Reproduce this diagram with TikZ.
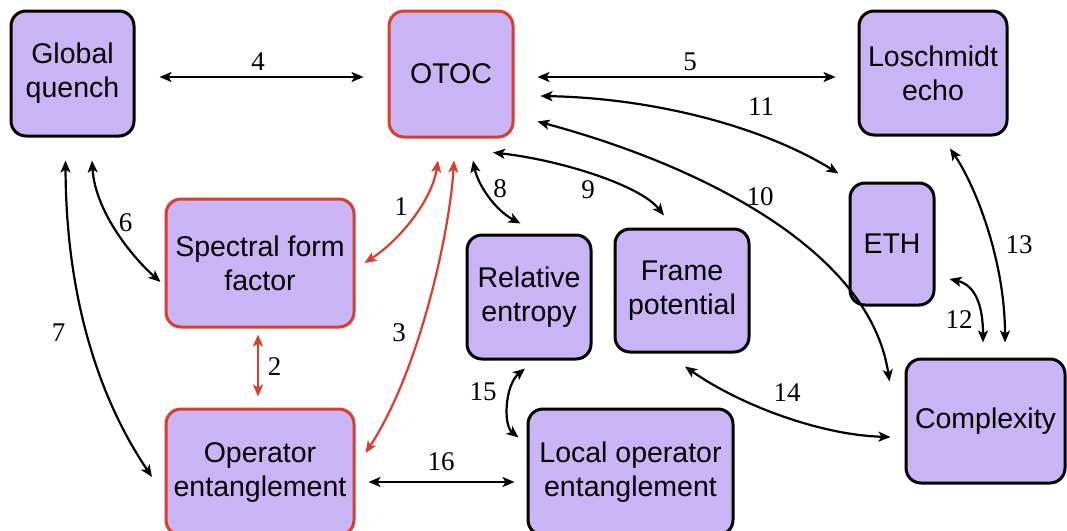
\documentclass[tikz,border=0pt]{standalone}
\usepackage{fontspec}
\setmainfont{Liberation Serif}
\newfontfamily\boxfont{Liberation Sans}
\usetikzlibrary{arrows.meta,calc}
\definecolor{boxfill}{RGB}{201,180,245}
\definecolor{linkred}{RGB}{220,60,44}

\begin{document}
\begin{tikzpicture}[x=1pt,y=-1pt,
  box/.style={draw=black, line width=3pt, fill=boxfill, rounded corners=15pt,
    align=center, inner sep=0pt, font=\boxfont\fontsize{28.5}{34}\selectfont},
  hot/.style={box, draw=linkred},
  tip/.tip={Stealth[length=12pt,width=10pt,inset=3pt]},
  link/.style={line width=2.2pt, tip-tip},
  redlink/.style={link, draw=linkred},
  num/.style={inner sep=0pt, font=\fontsize{27}{27}\selectfont}
]
\useasboundingbox (0,0) rectangle (1067,530);
\clip (0,0) rectangle (1067,530);

% boxes
\node[box, minimum width=123pt, minimum height=125pt] (gq)   at (72.5,73.5) {Global\\quench};
\node[hot, minimum width=124pt, minimum height=126pt] (otoc) at (451,74)    {OTOC};
\node[box, minimum width=148pt, minimum height=124pt] (lo)   at (933,73)    {Loschmidt\\echo};
\node[box, minimum width=84pt,  minimum height=122pt] (eth)  at (892,244)   {ETH};
\node[hot, minimum width=188pt, minimum height=128pt] (sff)  at (260,263)   {Spectral form\\factor};
\node[box, minimum width=124pt, minimum height=124pt] (re)   at (529,297)   {Relative\\entropy};
\node[box, minimum width=134pt, minimum height=123pt] (fp)   at (682,290.5) {Frame\\potential};
\node[box, minimum width=159pt, minimum height=124pt] (cx)   at (985.5,421) {Complexity};
\node[hot, minimum width=188pt, minimum height=126pt] (oe)   at (260,472)   {Operator\\entanglement};
\node[box, minimum width=205pt, minimum height=126pt] (loe)  at (630.5,472) {Local operator\\entanglement};

% connectors
\draw[redlink] ($(otoc.south)+(-13,22)$) .. controls (432,200) and (400,240) .. ($(sff.east)+(9,0)$);
\draw[redlink] ($(sff.south)+(-2,6)$) -- ($(oe.north)+(-2,-11)$);
\draw[redlink] ($(otoc.south)+(3,22)$) .. controls (450,230) and (420,370) .. ($(oe.east)+(10,-19)$);
\draw[link] ($(gq.east)+(24,3.5)$) -- ($(otoc.west)+(-24,3)$);
\draw[link] ($(otoc.east)+(23,3)$) -- ($(lo.west)+(-22,4)$);
\draw[link] ($(gq.south)+(19.5,23)$) .. controls (95,210) and (130,255) .. ($(sff.west)+(-4,19)$);
\draw[link] ($(gq.south)+(-7,23)$) .. controls (66,300) and (100,400) .. ($(oe.west)+(-12.5,5)$);
\draw[link] ($(otoc.south)+(22,22)$) .. controls (478,185) and (495,210) .. ($(re.north)+(-8.5,-10)$);
\draw[link] ($(otoc.south)+(42,14)$) .. controls (560,160) and (640,185) .. ($(fp.north)+(-18,-12)$);
\draw[link] ($(otoc.south east)+(23,-17)$) .. controls (700,165) and (870,250) .. ($(cx.north west)+(-15,24)$);
\draw[link] ($(otoc.east)+(26,22)$) .. controls (650,98) and (760,125) .. ($(eth.north west)+(-10,-8)$);
\draw[link] ($(eth.east)+(14,35)$) .. controls (975,285) and (983,305) .. ($(cx.north)+(-2.5,-15)$);
\draw[link] ($(lo.south)+(17,12)$) .. controls (975,185) and (1005,260) .. ($(cx.north)+(19.5,-15)$);
\draw[link] ($(fp.south)+(3,13)$) .. controls (740,405) and (820,435) .. ($(cx.west)+(-14,16)$);
\draw[link] ($(re.south)+(-4,8)$) .. controls (505,385) and (503,425) .. ($(loe.north west)+(-8,30)$);
\draw[link] ($(oe.east)+(13,10)$) -- ($(loe.west)+(-12,10)$);

% connector numbers
\node[num] (n1)  at (401,207)   {1};
\node[num] (n2)  at (274.5,367) {2};
\node[num] (n3)  at (399,333)   {3};
\node[num] (n4)  at (258,62)    {4};
\node[num] (n5)  at (690,62)    {5};
\node[num] (n6)  at (125.7,223) {6};
\node[num] (n7)  at (58.5,333)  {7};
\node[num] (n8)  at (500,189)   {8};
\node[num] (n9)  at (588,190)   {9};
\node[num] (n10) at (760,197)   {10};
\node[num] (n11) at (761,107)   {11};
\node[num] (n12) at (959,320)   {12};
\node[num] (n13) at (1019,245)  {13};
\node[num] (n14) at (787,393)   {14};
\node[num] (n15) at (483,392)   {15};
\node[num] (n16) at (441,462)   {16};
\end{tikzpicture}
\end{document}
